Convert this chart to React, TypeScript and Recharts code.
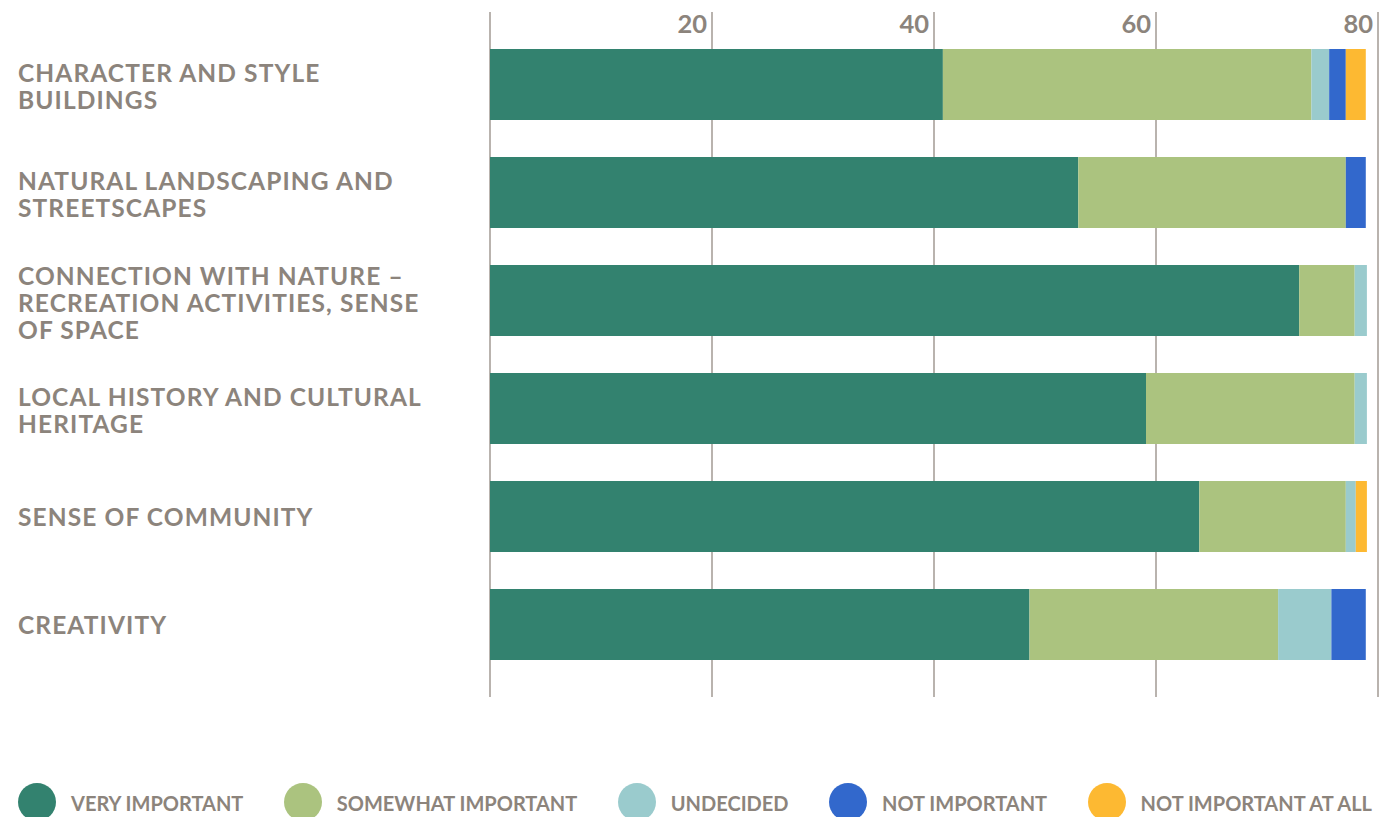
import React from 'react';
import { BarChart, Bar, XAxis, YAxis, CartesianGrid, Legend } from 'recharts';

const categories = [
  'CHARACTER AND STYLE\nBUILDINGS',
  'NATURAL LANDSCAPING AND\nSTREETSCAPES',
  'CONNECTION WITH NATURE –\nRECREATION ACTIVITIES, SENSE\nOF SPACE',
  'LOCAL HISTORY AND CULTURAL\nHERITAGE',
  'SENSE OF COMMUNITY',
  'CREATIVITY',
];
const veryImportant = [40.8, 53.0, 72.9, 59.1, 63.9, 48.6];
const somewhatImportant = [33.2, 24.1, 5.0, 18.8, 13.2, 22.4];
const undecided = [1.6, 0, 1.1, 1.1, 0.9, 4.8];
const notImportant = [1.5, 1.8, 0, 0, 0, 3.1];
const notImportantAtAll = [1.8, 0, 0, 0, 1.0, 0];
const xTicks = [0, 20, 40, 60, 80];

const series = [
  { key: 'vi', name: 'VERY IMPORTANT', color: '#33826f', values: veryImportant },
  { key: 'si', name: 'SOMEWHAT IMPORTANT', color: '#abc37f', values: somewhatImportant },
  { key: 'un', name: 'UNDECIDED', color: '#9acbcd', values: undecided },
  { key: 'ni', name: 'NOT IMPORTANT', color: '#3268cc', values: notImportant },
  { key: 'na', name: 'NOT IMPORTANT AT ALL', color: '#fdb932', values: notImportantAtAll },
];

const data = categories.map((name, i) => {
  const row: any = { name };
  series.forEach((s) => (row[s.key] = s.values[i]));
  return row;
});

const TEXT = '#8c847c';
const FONT = 'Lato, "Open Sans", sans-serif';

const YTick = (props: any) => {
  const { y, payload } = props;
  const lines = String(payload.value).split('\n');
  const first = 10 - (lines.length - 1) * 12.5;
  return (
    <text fill={TEXT} fontSize={24.5} fontWeight={700} fontFamily={FONT} letterSpacing={1.1}>
      {lines.map((l: string, i: number) => (
        <tspan key={i} x={18} y={y + first + i * 27}>
          {l}
        </tspan>
      ))}
    </text>
  );
};

const XTick = (props: any) => {
  const { x, payload } = props;
  if (payload.value === 0) return <g />;
  return (
    <text x={x - 5} y={33} textAnchor="end" fill={TEXT} fontSize={25.5} fontWeight={700} fontFamily={FONT}>
      {payload.value}
    </text>
  );
};

const LegendContent = () => (
  <div
    style={{
      display: 'flex',
      justifyContent: 'space-between',
      width: 1354,
      fontFamily: FONT,
      fontWeight: 700,
      fontSize: 20,
      color: TEXT,
    }}
  >
    {series.map((s) => (
      <div key={s.key} style={{ display: 'flex', alignItems: 'center' }}>
        <div style={{ width: 38, height: 38, borderRadius: '50%', background: s.color, marginRight: 15 }} />
        <span style={{ paddingTop: 2 }}>{s.name}</span>
      </div>
    ))}
  </div>
);

export default function App() {
  return (
    <div style={{ position: 'absolute', left: 0, top: 0, width: 1379, height: 817, background: '#fff' }}>
      <BarChart
        width={1379}
        height={817}
        data={data}
        layout="vertical"
        margin={{ top: 11, right: 1, left: 0, bottom: 82 }}
        barSize={71}
      >
        <CartesianGrid horizontal={false} stroke="#a29a93" strokeWidth={1.5} />
        <XAxis
          type="number"
          orientation="top"
          domain={[0, 80]}
          ticks={xTicks}
          height={1}
          axisLine={false}
          tickLine={false}
          tick={<XTick />}
          interval={0}
        />
        <YAxis
          type="category"
          dataKey="name"
          width={490}
          axisLine={false}
          tickLine={false}
          tick={<YTick />}
          interval={0}
          padding={{ top: 18, bottom: 19 }}
        />
        {series.map((s) => (
          <Bar key={s.key} dataKey={s.key} name={s.name} stackId="a" fill={s.color} isAnimationActive={false} />
        ))}
        <Legend
          verticalAlign="bottom"
          content={<LegendContent />}
          wrapperStyle={{ left: 18, top: 783, bottom: 'auto', width: 1354, height: 38 }}
        />
      </BarChart>
    </div>
  );
}
